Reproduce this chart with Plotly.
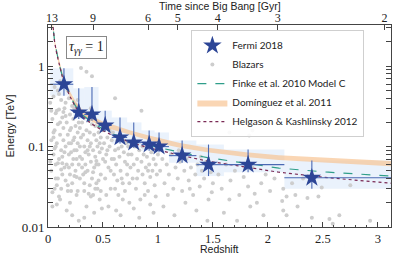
import plotly.graph_objects as go

# ---------------- data ----------------
fermi_z = [0.145, 0.28, 0.40, 0.52, 0.655, 0.78, 0.92, 1.01, 1.22, 1.46, 1.82, 2.40]
fermi_e = [0.596, 0.266, 0.251, 0.183, 0.130, 0.112, 0.106, 0.100, 0.0772, 0.0596, 0.0596, 0.041]
fermi_e_hi = [0.94, 0.53, 0.55, 0.28, 0.23, 0.20, 0.159, 0.15, 0.119, 0.106, 0.092, 0.067]
fermi_e_lo = [0.43, 0.22, 0.21, 0.154, 0.109, 0.097, 0.089, 0.085, 0.063, 0.043, 0.048, 0.030]
fermi_z_lo = [0.02, 0.23, 0.33, 0.46, 0.58, 0.72, 0.85, 0.97, 1.10, 1.35, 1.60, 2.15]
fermi_z_hi = [0.23, 0.33, 0.46, 0.58, 0.72, 0.85, 0.97, 1.10, 1.35, 1.60, 2.15, 3.12]

blazar_z = [
    0.02, 0.03, 0.03, 0.04, 0.05, 0.05, 0.06, 0.06, 0.07, 0.07,
    0.08, 0.08, 0.09, 0.09, 0.10, 0.10, 0.11, 0.11, 0.12, 0.12,
    0.13, 0.13, 0.14, 0.14, 0.15, 0.04, 0.06, 0.09, 0.11, 0.13,
    0.02, 0.05, 0.08, 0.10, 0.12, 0.14, 0.03, 0.07, 0.15, 0.11,
    0.16, 0.16, 0.17, 0.17, 0.18, 0.18, 0.19, 0.19, 0.20, 0.20,
    0.21, 0.21, 0.22, 0.22, 0.23, 0.23, 0.24, 0.24, 0.25, 0.25,
    0.26, 0.26, 0.27, 0.27, 0.28, 0.28, 0.29, 0.29, 0.30, 0.30,
    0.17, 0.19, 0.21, 0.23, 0.25, 0.27, 0.29, 0.16, 0.22, 0.26,
    0.18, 0.20, 0.24, 0.28,
    0.31, 0.31, 0.32, 0.32, 0.33, 0.33, 0.34, 0.34, 0.35, 0.35,
    0.36, 0.36, 0.37, 0.37, 0.38, 0.38, 0.39, 0.39, 0.40, 0.40,
    0.41, 0.41, 0.42, 0.42, 0.43, 0.43, 0.44, 0.44, 0.45, 0.45,
    0.46, 0.46, 0.47, 0.47, 0.48, 0.48, 0.49, 0.49, 0.50, 0.50,
    0.33, 0.36, 0.39, 0.42, 0.45, 0.48, 0.34, 0.44, 0.38, 0.47,
    0.51, 0.52, 0.53, 0.54, 0.55, 0.56, 0.57, 0.58, 0.59, 0.60,
    0.61, 0.62, 0.63, 0.64, 0.65, 0.66, 0.67, 0.68, 0.69, 0.70,
    0.71, 0.72, 0.73, 0.74, 0.75, 0.52, 0.55, 0.58, 0.61, 0.64,
    0.67, 0.70, 0.73, 0.54, 0.60, 0.66, 0.72, 0.57, 0.63, 0.69,
    0.53, 0.62, 0.74, 0.56, 0.68,
    0.76, 0.77, 0.78, 0.79, 0.80, 0.81, 0.82, 0.83, 0.84, 0.85,
    0.86, 0.87, 0.88, 0.89, 0.90, 0.91, 0.92, 0.93, 0.94, 0.95,
    0.96, 0.97, 0.98, 0.99, 1.00, 0.78, 0.83, 0.88, 0.93, 0.98,
    0.81, 0.86, 0.91, 0.96,
    1.02, 1.04, 1.06, 1.08, 1.10, 1.12, 1.14, 1.16, 1.18, 1.20,
    1.22, 1.24, 1.26, 1.28, 1.30, 1.32, 1.34, 1.36, 1.38, 1.40,
    1.42, 1.44, 1.46, 1.48, 1.50, 1.05, 1.15, 1.25, 1.35, 1.45,
    1.09, 1.19, 1.29, 1.39, 1.49,
    1.55, 1.58, 1.62, 1.66, 1.70, 1.74, 1.78, 1.82, 1.86, 1.90,
    1.94, 1.98, 2.02, 2.06, 1.60, 1.72, 1.84, 1.96, 1.65, 1.88,
    2.13, 2.14, 2.17, 2.17, 2.25, 2.27, 2.36, 2.40, 2.46, 2.49,
    2.56, 2.59, 2.65, 2.75, 2.93, 2.22, 2.32,
    0.30, 0.35, 0.40, 0.61, 0.85, 1.72, 1.65, 1.83, 1.86, 2.14,
    0.04, 0.07, 0.09, 0.12, 0.16, 0.19, 0.22, 0.26, 0.29, 0.33,
    0.37, 0.41, 0.44, 0.05, 0.10, 0.15, 0.21, 0.27, 0.34, 0.43,
    0.06, 0.13, 0.18, 0.24, 0.31, 0.39, 0.46, 0.08, 0.14, 0.20,
]
blazar_e = [
    0.35, 0.12, 0.05, 0.22, 0.08, 0.42, 0.03, 0.16, 0.26, 0.06,
    0.11, 0.033, 0.19, 0.5, 0.07, 0.29, 0.14, 0.022, 0.38, 0.09,
    0.045, 0.23, 0.12, 0.6, 0.3, 0.018, 0.55, 0.04, 0.2, 0.075,
    0.065, 0.15, 0.28, 0.45, 0.03, 0.17, 0.28, 0.1, 0.055, 0.65,
    0.1, 0.35, 0.06, 0.2, 0.028, 0.14, 0.4, 0.08, 0.25, 0.045,
    0.17, 0.11, 0.32, 0.035, 0.07, 0.22, 0.13, 0.3, 0.05, 0.18,
    0.09, 0.025, 0.15, 0.38, 0.06, 0.2, 0.1, 0.04, 0.26, 0.13,
    0.016, 0.055, 0.085, 0.12, 0.33, 0.028, 0.17, 0.24, 0.014, 0.07,
    0.5, 0.02, 0.09, 0.012,
    0.07, 0.2, 0.045, 0.14, 0.1, 0.028, 0.24, 0.06, 0.16, 0.018,
    0.12, 0.05, 0.08, 0.21, 0.033, 0.15, 0.065, 0.11, 0.19, 0.04,
    0.09, 0.025, 0.14, 0.055, 0.18, 0.075, 0.035, 0.12, 0.1, 0.2,
    0.06, 0.15, 0.022, 0.085, 0.13, 0.045, 0.095, 0.017, 0.07, 0.16,
    0.013, 0.09, 0.3, 0.015, 0.03, 0.028, 0.085, 0.06, 0.1, 0.11,
    0.11, 0.04, 0.08, 0.13, 0.055, 0.1, 0.03, 0.07, 0.15, 0.045,
    0.09, 0.06, 0.12, 0.025, 0.075, 0.05, 0.1, 0.035, 0.085, 0.065,
    0.11, 0.045, 0.08, 0.02, 0.055, 0.065, 0.018, 0.12, 0.03, 0.095,
    0.04, 0.028, 0.1, 0.09, 0.07, 0.014, 0.06, 0.05, 0.038, 0.12,
    0.025, 0.016, 0.035, 0.16, 0.022,
    0.08, 0.04, 0.06, 0.1, 0.03, 0.07, 0.05, 0.09, 0.022, 0.065,
    0.045, 0.08, 0.035, 0.055, 0.075, 0.028, 0.06, 0.042, 0.085, 0.05,
    0.07, 0.033, 0.06, 0.045, 0.08, 0.017, 0.013, 0.025, 0.019, 0.024,
    0.04, 0.1, 0.05, 0.015,
    0.05, 0.07, 0.035, 0.06, 0.045, 0.08, 0.03, 0.055, 0.04, 0.065,
    0.028, 0.05, 0.07, 0.038, 0.055, 0.025, 0.045, 0.06, 0.032, 0.05,
    0.04, 0.065, 0.022, 0.048, 0.035, 0.018, 0.014, 0.02, 0.016, 0.012,
    0.025, 0.09, 0.03, 0.075, 0.027,
    0.045, 0.03, 0.06, 0.038, 0.05, 0.025, 0.042, 0.032, 0.055, 0.02,
    0.035, 0.045, 0.028, 0.04, 0.015, 0.012, 0.018, 0.014, 0.022, 0.026,
    0.021, 0.016, 0.024, 0.014, 0.025, 0.018, 0.023, 0.013, 0.024, 0.031,
    0.0126, 0.011, 0.014, 0.033, 0.012, 0.035, 0.04,
    0.95, 0.85, 0.75, 0.40, 0.28, 0.194, 0.15, 0.137, 0.158, 0.03,
    0.027, 0.04, 0.062, 0.052, 0.038, 0.11, 0.06, 0.042, 0.075, 0.035,
    0.026, 0.048, 0.066, 0.13, 0.024, 0.085, 0.028, 0.11, 0.048, 0.03,
    0.095, 0.062, 0.033, 0.043, 0.055, 0.024, 0.038, 0.019, 0.27, 0.16,
]

model_z = [0.02, 0.03, 0.04, 0.06, 0.08, 0.10, 0.13, 0.16, 0.20, 0.25, 0.31, 0.40,
           0.50, 0.60, 0.75, 0.90, 1.05, 1.20, 1.45, 1.80, 2.10, 2.55, 3.12]
dom_lo = [6.4, 4.4, 3.2, 1.85, 1.33, 1.01, 0.72, 0.55, 0.415, 0.315, 0.25, 0.203,
          0.175, 0.16, 0.137, 0.121, 0.107, 0.097, 0.085, 0.074, 0.068, 0.063, 0.057]
dom_hi = [7.6, 5.2, 3.8, 2.15, 1.57, 1.19, 0.84, 0.65, 0.485, 0.365, 0.29, 0.237,
          0.205, 0.186, 0.158, 0.139, 0.123, 0.111, 0.097, 0.085, 0.078, 0.072, 0.066]
finke_e = [7.5, 5.0, 3.6, 2.05, 1.45, 1.08, 0.76, 0.58, 0.43, 0.32, 0.25, 0.20,
           0.165, 0.142, 0.12, 0.105, 0.094, 0.085, 0.073, 0.062, 0.054, 0.048, 0.043]
helg_e = [7.2, 4.9, 3.55, 2.0, 1.42, 1.05, 0.74, 0.56, 0.42, 0.31, 0.24, 0.19,
          0.158, 0.135, 0.113, 0.098, 0.087, 0.078, 0.066, 0.055, 0.048, 0.041, 0.035]

time_labels = ["13", "9", "6", "5", "4", "3", "2"]
time_tick_z = [0.036, 0.41, 0.91, 1.18, 1.545, 2.09, 3.06]

# ---------------- figure ----------------
fig = go.Figure()

# light-blue bin boxes
for i in range(len(fermi_z)):
    fig.add_trace(go.Scatter(
        x=[fermi_z_lo[i], fermi_z_hi[i], fermi_z_hi[i], fermi_z_lo[i], fermi_z_lo[i]],
        y=[fermi_e_lo[i], fermi_e_lo[i], fermi_e_hi[i], fermi_e_hi[i], fermi_e_lo[i]],
        mode="lines", fill="toself", fillcolor="rgba(160,195,240,0.22)",
        line=dict(width=0), showlegend=False, hoverinfo="skip"))

fig.add_trace(go.Scatter(
    x=blazar_z, y=blazar_e, mode="markers", name="Blazars",
    marker=dict(size=4, color="#cdcdcd"), legendrank=2))

fig.add_trace(go.Scatter(
    x=model_z, y=dom_lo, mode="lines", line=dict(width=0, color="#f6b77c"),
    showlegend=False, hoverinfo="skip"))
fig.add_trace(go.Scatter(
    x=model_z, y=dom_hi, mode="lines", line=dict(width=0, color="#f6b77c"),
    fill="tonexty", fillcolor="rgba(247,192,140,0.65)",
    name="Domínguez et al. 2011", legendrank=4))

fig.add_trace(go.Scatter(
    x=model_z, y=finke_e, mode="lines", name="Finke et al. 2010 Model C",
    line=dict(color="#2f9e8a", width=1.2, dash="dash"), legendrank=3))
fig.add_trace(go.Scatter(
    x=model_z, y=helg_e, mode="lines", name="Helgason &amp; Kashlinsky 2012",
    line=dict(color="#7a2a55", width=1.2, dash="dot"), legendrank=5))

fig.add_trace(go.Scatter(
    x=fermi_z, y=fermi_e, mode="markers", name="Fermi 2018",
    marker=dict(symbol="star", size=14, color="#2c4596", line=dict(width=0)),
    error_x=dict(type="data", symmetric=False,
                 array=[h - z for h, z in zip(fermi_z_hi, fermi_z)],
                 arrayminus=[z - l for l, z in zip(fermi_z_lo, fermi_z)],
                 color="#4a68b3", thickness=1.1, width=0),
    error_y=dict(type="data", symmetric=False,
                 array=[h - e for h, e in zip(fermi_e_hi, fermi_e)],
                 arrayminus=[e - l for l, e in zip(fermi_e_lo, fermi_e)],
                 color="#4a68b3", thickness=1.1, width=0),
    legendrank=1))

# invisible trace to activate the top axis
fig.add_trace(go.Scatter(x=[1.0], y=[0.1], xaxis="x2", mode="markers",
                         marker=dict(opacity=0), showlegend=False, hoverinfo="skip"))

serif = "Liberation Serif"
sans = "Liberation Sans"

fig.update_layout(
    width=394, height=255,
    margin=dict(l=48, r=3, t=25, b=28, autoexpand=False),
    paper_bgcolor="white", plot_bgcolor="white",
    showlegend=True,
    xaxis=dict(range=[0, 3.12], showgrid=False, zeroline=False, automargin=False,
               showline=True, linecolor="#444", linewidth=1, mirror=True,
               ticks="inside", ticklen=5, tickcolor="#444",
               tickvals=[0, 0.5, 1, 1.5, 2, 2.5, 3],
               ticktext=["0", "0.5", "1", "1.5", "2", "2.5", "3"],
               tickfont=dict(family=serif, size=12.5, color="#222"),
               minor=dict(ticks="inside", ticklen=2.5, dtick=0.1, tickcolor="#444", showgrid=False)),
    xaxis2=dict(matches="x", overlaying="x", side="top", anchor="y", showgrid=False,
                zeroline=False, automargin=False, ticks="inside", ticklen=5, tickcolor="#444",
                tickvals=time_tick_z, ticktext=time_labels,
                tickfont=dict(family=serif, size=12, color="#222")),
    yaxis=dict(type="log", range=[-2, 0.512], showgrid=False, zeroline=False, automargin=False,
               showline=True, linecolor="#444", linewidth=1, mirror="allticks",
               ticks="inside", ticklen=5, tickcolor="#444",
               tickvals=[0.01, 0.1, 1], ticktext=["0.01", "0.1", "1"],
               tickfont=dict(family=serif, size=13, color="#222"),
               minor=dict(ticks="inside", ticklen=2.5, tickcolor="#444", dtick="D1", showgrid=False),
               title=dict(text="Energy [TeV]", font=dict(family=sans, size=11, color="#222"), standoff=4)),
    legend=dict(x=0.418, y=0.975, xanchor="left", yanchor="top", traceorder="normal",
                bgcolor="rgba(255,255,255,0.9)", bordercolor="#cfcfcf", borderwidth=1,
                font=dict(family="Lato", size=10, color="#222")),
    annotations=[
        dict(x=0.111, y=0.891, xref="paper", yref="paper", showarrow=False,
             xanchor="center", yanchor="middle",
             text="<i>τ</i><sub><i>γγ</i></sub> = 1",
             font=dict(family=serif, size=14, color="#222"),
             bordercolor="#888", borderwidth=1, borderpad=2, bgcolor="white"),
        dict(x=0.5, y=0, xref="paper", yref="paper", yshift=-21.5, showarrow=False,
             xanchor="center", yanchor="middle", text="Redshift",
             font=dict(family=sans, size=10.5, color="#222")),
        dict(x=0.5, y=1, xref="paper", yref="paper", yshift=19.5, showarrow=False,
             xanchor="center", yanchor="middle", text="Time since Big Bang [Gyr]",
             font=dict(family=sans, size=10.5, color="#222")),
    ],
)

fig.write_html("out.html", config={"displayModeBar": False},
               post_script="document.body.style.margin='0';")
